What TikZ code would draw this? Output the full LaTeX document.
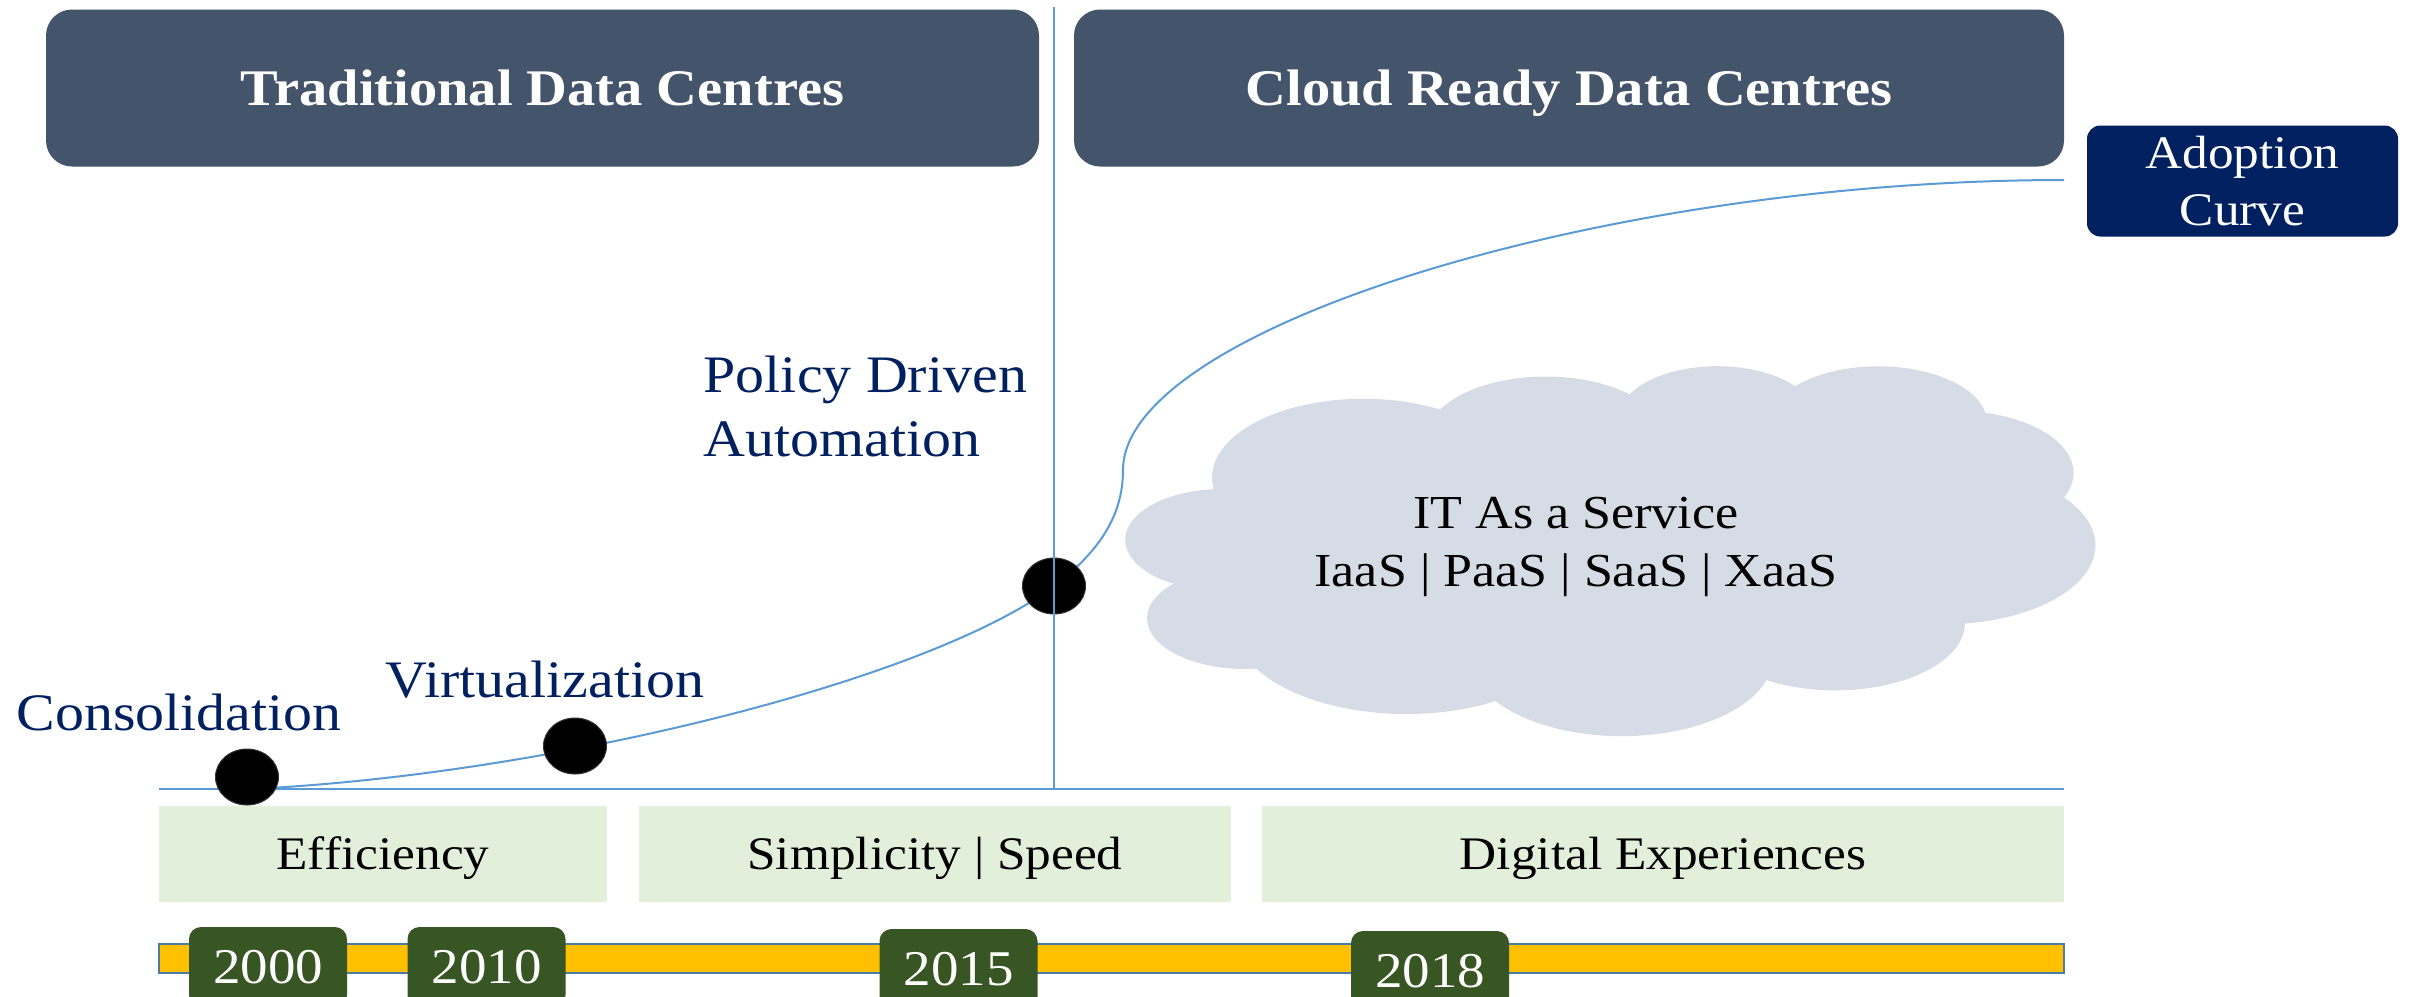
\documentclass[tikz,border=0pt]{standalone}
\usepackage{fontspec}
\setmainfont{Liberation Serif}[FakeStretch=1.1]
\usetikzlibrary{shapes.geometric}

\definecolor{slate}{HTML}{44546A}
\definecolor{navy}{HTML}{002060}
\definecolor{lineblue}{HTML}{5B9BD5}
\definecolor{palegreen}{HTML}{E2EFDA}
\definecolor{amber}{HTML}{FFC000}
\definecolor{yeargreen}{HTML}{375623}
\definecolor{cloudgrey}{HTML}{D6DCE5}

\pgfdeclarelayer{curves}
\pgfsetlayers{curves,main}

% scale factors of the cloud outline (43200 x 43200 design grid -> 969 x 370)
\def\cx{0.022431}
\def\cy{0.0085648}

\tikzset{
  titlebox/.style={fill=slate, rounded corners=7.8pt, minimum width=#1, minimum height=47.1pt,
    text=white, font=\bfseries\fontsize{15.4pt}{18pt}\selectfont, text height=10.2pt, text depth=0pt, inner sep=0pt},
  adoptbox/.style={fill=navy, rounded corners=4pt, minimum width=93.3pt, minimum height=33.3pt,
    text=white, font=\fontsize{14pt}{17.1pt}\selectfont, align=center, inner sep=0pt},
  navylabel/.style={text=navy, font=\fontsize{15.8pt}{19.2pt}\selectfont, inner sep=0pt},
  phasebox/.style={fill=palegreen, minimum width=#1, minimum height=28.8pt,
    font=\fontsize{14pt}{17pt}\selectfont, text height=9.3pt, text depth=0pt, inner sep=0pt},
  yearbox/.style={fill=yeargreen, rounded corners=3.6pt, minimum width=47.4pt, minimum height=24pt,
    text=white, font=\fontsize{15pt}{18pt}\selectfont, text height=10.1pt, text depth=0pt, inner sep=0pt},
  milestone/.style={ellipse, fill=black, draw=black!80, line width=0.3pt,
    minimum width=18.9pt, minimum height=16.8pt, inner sep=0pt},
  guide/.style={draw=lineblue, line width=0.45pt},
  adoption/.style={draw=lineblue, line width=0.6pt},
  puff/.style n args={4}{x radius={#1*\cx}, y radius={#2*\cy},
    start angle={atan2(#1*sin(#3),#2*cos(#3))},
    delta angle={mod(atan2(#1*sin(#3+#4),#2*cos(#3+#4))-atan2(#1*sin(#3),#2*cos(#3))+720,360)}},
}

\begin{document}
\begin{tikzpicture}[x=0.3pt,y=-0.3pt]
\useasboundingbox (0,0) rectangle (2420,996);

% service cloud
\fill[cloudgrey] ({1126+3900*\cx},{365+14370*\cy})
  arc[puff={6753}{9190}{-190.4875}{123.7805}]
  arc[puff={5333}{7267}{-144.1024}{89.9452}]
  arc[puff={4365}{5945}{-145.8079}{99.7230}]
  arc[puff={4857}{6595}{-130.9861}{117.2417}]
  arc[puff={5333}{7273}{-78.7089}{109.0269}]
  arc[puff={6775}{9220}{-46.2673}{130.2690}]
  arc[puff={5785}{7867}{0.6250}{114.0333}]
  arc[puff={6752}{9215}{22.4516}{115.1726}]
  arc[puff={7720}{10543}{66.2426}{75.7110}]
  arc[puff={4360}{5918}{-274.9421}{146.7356}]
  arc[puff={4345}{5945}{-246.8285}{152.5189}]
  -- cycle;
\node[align=center, font=\fontsize{14.2pt}{17.4pt}\selectfont, inner sep=0pt] (svc) at (1576,547)
  {IT As a Service\\IaaS | PaaS | SaaS | XaaS};

% header boxes
\node[titlebox=297.9pt] (trad) at (542.5,88) {Traditional Data Centres};
\node[titlebox=297pt] (cloud) at (1569,88) {Cloud Ready Data Centres};
\node[adoptbox] (adopt) at (2242.5,181) {Adoption\\Curve};

% phase boxes
\node[phasebox=134.4pt] (eff) at (383,854) {Efficiency};
\node[phasebox=177.6pt] (simp) at (935,854) {Simplicity | Speed};
\node[phasebox=240.6pt] (digi) at (1663,854) {Digital Experiences};

% timeline bar and years
\coordinate (barL) at (159,944);
\coordinate (barR) at (2064,973);
\fill[amber, draw=lineblue!80!black, line width=0.35pt] (barL) rectangle (barR);
\node[yearbox] (y2000) at (268,967) {2000};
\node[yearbox] (y2010) at (486.5,967) {2010};
\node[yearbox] (y2015) at (958.5,969) {2015};
\node[yearbox] (y2018) at (1430,971) {2018};

% axis line
\coordinate (axL) at (159,789);
\coordinate (axR) at (2064,789);
\draw[guide] (axL) -- (axR);

% milestones and the adoption curve behind them
\node[milestone] (dot1) at (247,777) {};
\node[milestone] (dot2) at (575,746) {};
\node[milestone] (dot3) at (1054,586) {};
\coordinate (c0) at (250,789);
\coordinate (bend) at (1123,470);
\coordinate (cend) at (2064,180);
\begin{pgfonlayer}{curves}
\draw[adoption] (c0) .. controls (550,775) and (930,680) .. (dot3.center)
  .. controls (1100,551) and (1123,515) .. (bend)
  .. controls (1123,330) and (1600,180) .. (cend);
\end{pgfonlayer}

% divider between the two eras
\coordinate (vtop) at (1054,7);
\coordinate (vbot) at (1054,789);
\draw[guide] (vtop) -- (vbot);

% milestone labels
\node[navylabel, anchor=base] (cons) at (179,730) {Consolidation};
\node[navylabel, anchor=base] (virt) at (545,697) {Virtualization};
\node[navylabel, anchor=north west, align=left] (pda) at (703,355) {Policy Driven\\Automation};
\end{tikzpicture}
\end{document}
